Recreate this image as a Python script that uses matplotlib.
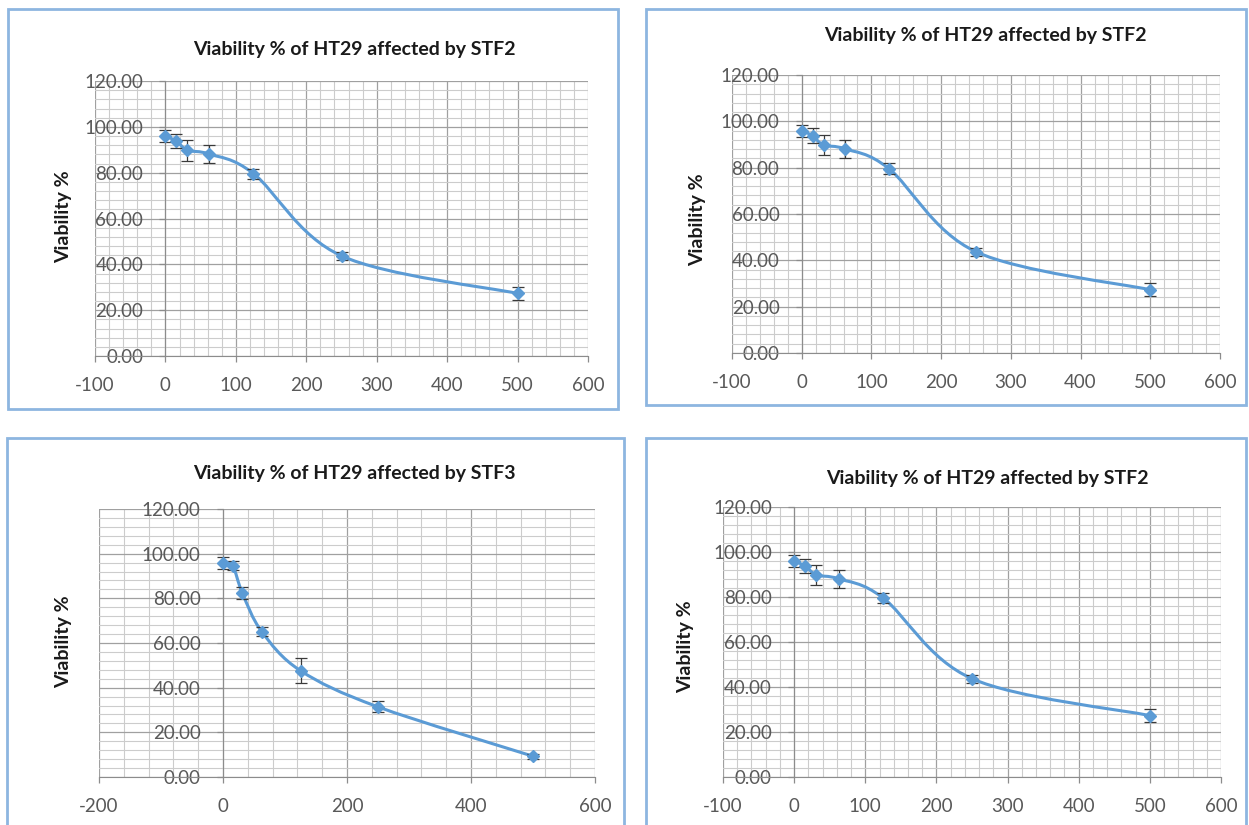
import numpy as np
import matplotlib
matplotlib.use("Agg")
import matplotlib.pyplot as plt
from matplotlib.path import Path
from matplotlib.patches import PathPatch, Rectangle
from matplotlib.ticker import MultipleLocator, FuncFormatter

plt.rcParams['font.family'] = ['Lato', 'DejaVu Sans']

# concentrations (x) and viability readings
conc = [0, 15.6, 31.25, 62.5, 125, 250, 500]
stf2_mean = [95.9, 93.8, 89.8, 88.1, 79.6, 43.7, 27.3]
stf2_err = [2.6, 3.2, 4.5, 4.0, 2.2, 1.8, 2.8]
stf3_mean = [95.8, 94.6, 82.3, 65.1, 47.6, 31.4, 9.3]
stf3_err = [2.7, 2.1, 2.8, 2.1, 5.6, 2.5, 1.2]

titles = ["Viability % of HT29 affected by STF2",
          "Viability % of HT29 affected by STF2",
          "Viability % of HT29 affected by STF3",
          "Viability % of HT29 affected by STF2"]
ylabel = "Viability %"

W, H = 1249, 825
BLUE = '#5B9BD5'


def box(x0, y0, x1, y1):
    return [x0 / W, 1 - y1 / H, (x1 - x0) / W, (y1 - y0) / H]


def smooth_path(x, y):
    # excel style smoothed line (catmull-rom as cubic beziers)
    pts = np.column_stack([x, y])
    ext = np.vstack([pts[0], pts, pts[-1]])
    verts = [pts[0]]
    codes = [Path.MOVETO]
    for i in range(len(pts) - 1):
        p0, p1, p2, p3 = ext[i], ext[i + 1], ext[i + 2], ext[i + 3]
        verts += [p1 + (p2 - p0) / 6, p2 - (p3 - p1) / 6, p2]
        codes += [Path.CURVE4] * 3
    return Path(verts, codes)


fig = plt.figure(figsize=(W / 100, H / 100), dpi=100)

panels = [
    # axes box, panel box, title pos, ylabel pos, xlim, x step, x minor, data
    ((95, 81, 588, 356), (8, 9, 618, 409), (354, 49), (64, 217), (-100, 600), 100, 20, stf2_mean, stf2_err),
    ((732, 75, 1220, 353), (646, 9, 1246, 405), (985, 35), (698, 220), (-100, 600), 100, 20, stf2_mean, stf2_err),
    ((99, 509, 595, 777), (7, 438, 624, 832), (354, 473), (64, 642), (-200, 600), 200, 40, stf3_mean, stf3_err),
    ((723, 507, 1221, 777), (646, 438, 1246, 832), (987, 479), (686, 647), (-100, 600), 100, 20, stf2_mean, stf2_err),
]

for k, (abox, pbox, tpos, ypos, xlim, xstep, xminor, mean, err) in enumerate(panels):
    x0, y0, x1, y1 = pbox
    fig.patches.append(Rectangle((x0 / W, 1 - y1 / H), (x1 - x0) / W, (y1 - y0) / H,
                                 transform=fig.transFigure, fill=False,
                                 edgecolor='#8DB6E0', lw=2))
    fig.text(tpos[0] / W, 1 - tpos[1] / H, titles[k], ha='center', va='center',
             fontsize=14, fontweight='bold', color='#1a1a1a')
    fig.text(ypos[0] / W, 1 - ypos[1] / H, ylabel, ha='center', va='center',
             rotation=90, fontsize=14, fontweight='bold', color='#1a1a1a')

    ax = fig.add_axes(box(*abox))
    ax.set_xlim(*xlim)
    ax.set_ylim(0, 120)
    ax.xaxis.set_major_locator(MultipleLocator(xstep))
    ax.xaxis.set_minor_locator(MultipleLocator(xminor))
    ax.yaxis.set_major_locator(MultipleLocator(20))
    ax.yaxis.set_minor_locator(MultipleLocator(4))
    ax.yaxis.set_major_formatter(FuncFormatter(lambda v, p: f"{v:.2f}"))
    ax.xaxis.set_major_formatter(FuncFormatter(lambda v, p: f"{v:.0f}"))
    ax.grid(which='major', color='#a0a0a0', lw=0.9)
    ax.grid(which='minor', color='#cccccc', lw=0.8)
    ax.set_axisbelow(True)

    for s in ['top', 'right']:
        ax.spines[s].set_visible(False)
    ax.spines['left'].set_position(('data', 0))
    ax.spines['left'].set_color('#8c8c8c')
    ax.spines['bottom'].set_color('#8c8c8c')
    ax.tick_params(which='major', direction='out', length=4, width=0.9,
                   color='#8c8c8c', labelsize=13.5, labelcolor='#595959')
    ax.tick_params(axis='y', pad=12)
    ax.tick_params(axis='x', pad=11)
    ax.tick_params(which='minor', length=0)

    ax.add_patch(PathPatch(smooth_path(conc, mean), fill=False,
                           edgecolor=BLUE, lw=2.2, zorder=3))
    ax.errorbar(conc, mean, yerr=err, fmt='none', ecolor='#3a3a3a',
                elinewidth=0.9, capsize=4, capthick=0.9, zorder=4)
    ax.plot(conc, mean, 'D', color=BLUE, ms=6.5, zorder=5)

fig.savefig("out.png", dpi=100)
